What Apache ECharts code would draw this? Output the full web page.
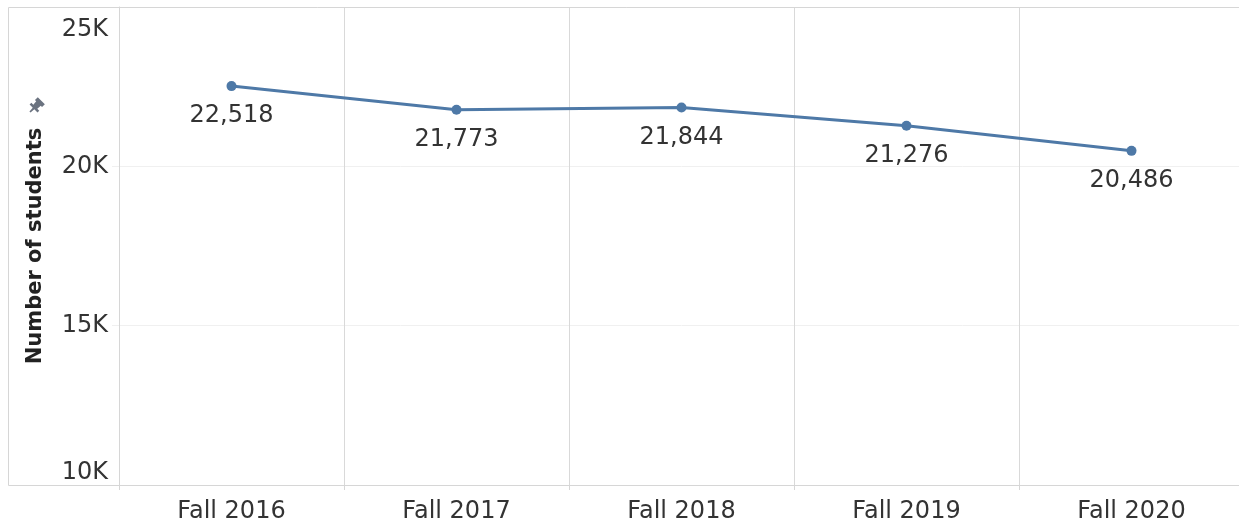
<!DOCTYPE html>
<html>
<head>
<meta charset="utf-8">
<script src="https://cdn.jsdelivr.net/npm/echarts@6/dist/echarts.min.js"></script>
<style>html,body{margin:0;padding:0;background:#fff;overflow:hidden}#c{width:1244px;height:525px}</style>
</head>
<body>
<div id="c"></div>
<script>
var categories = ['Fall 2016', 'Fall 2017', 'Fall 2018', 'Fall 2019', 'Fall 2020'];
var students = [22518, 21773, 21844, 21276, 20486];
var yTicks = [10000, 15000, 20000, 25000];

// pushpin icon (decoration) built in its own axis coordinates
function pinPoints(x0, y0) {
  var ts = [[0, -0.8], [5, -1.1], [5, -5.6], [7.5, -5.6], [7.5, -2.8], [12, -3.2], [12, -5], [16, -5],
            [16, 5], [12, 5], [12, 3.2], [7.5, 2.8], [7.5, 5.6], [5, 5.6], [5, 1.1], [0, 0.8]];
  var k = Math.SQRT1_2;
  return ts.map(function (p) { return [x0 + (p[0] + p[1]) * k, y0 + (-p[0] + p[1]) * k]; });
}

var chart = echarts.init(document.getElementById('c'), null, {renderer: 'canvas'});
var font = 'DejaVu Sans';
chart.setOption({
  animation: false,
  grid: {left: 119, right: 0, top: 7, bottom: 40, containLabel: false},
  graphic: [{
    type: 'rect', z: 100, silent: true,
    shape: {x: 8.5, y: 7.5, width: 1300, height: 478},
    style: {fill: 'none', stroke: '#d6d6d6', lineWidth: 1}
  }, {
    type: 'polygon', z: 100, silent: true,
    shape: {points: pinPoints(30, 112)},
    style: {fill: '#6b7380'}
  }],
  xAxis: {
    type: 'category',
    data: categories,
    boundaryGap: true,
    axisLine: {show: true, lineStyle: {color: '#d6d6d6', width: 1}},
    axisTick: {show: true, length: 5, lineStyle: {color: '#d6d6d6'}},
    splitLine: {show: true, lineStyle: {color: '#d9d9d9', width: 1}},
    axisLabel: {fontFamily: font, fontSize: 24, color: '#333', margin: 15}
  },
  yAxis: {
    type: 'value',
    min: yTicks[0], max: yTicks[yTicks.length - 1], interval: 5000,
    name: 'Number of students',
    nameLocation: 'middle',
    nameGap: 73,
    nameTextStyle: {fontFamily: font, fontSize: 21, fontWeight: 'bold', color: '#222'},
    axisLine: {show: true, lineStyle: {color: '#d6d6d6', width: 1}},
    axisTick: {show: true, length: 7, lineStyle: {color: '#f0f0f0'}},
    splitLine: {show: true, lineStyle: {color: '#f0f0f0', width: 1}},
    axisLabel: {
      fontFamily: font, fontSize: 24, color: '#333', margin: 11,
      formatter: function (v) {
        var s = (v / 1000) + 'K';
        return v === yTicks[yTicks.length - 1] ? '{top|' + s + '}' : s;
      },
      rich: {top: {fontFamily: font, fontSize: 24, color: '#333', padding: [11, 0, 0, 0]}},
      verticalAlignMinLabel: 'bottom',
      verticalAlignMaxLabel: 'top'
    }
  },
  series: [{
    type: 'line',
    data: students,
    symbol: 'circle',
    symbolSize: 10,
    lineStyle: {color: '#4e79a7', width: 3},
    itemStyle: {color: '#4e79a7'},
    label: {
      show: true, position: 'bottom', distance: 13,
      fontFamily: font, fontSize: 24, color: '#333',
      formatter: function (p) { return p.value.toLocaleString('en-US'); }
    }
  }]
});
</script>
</body>
</html>
